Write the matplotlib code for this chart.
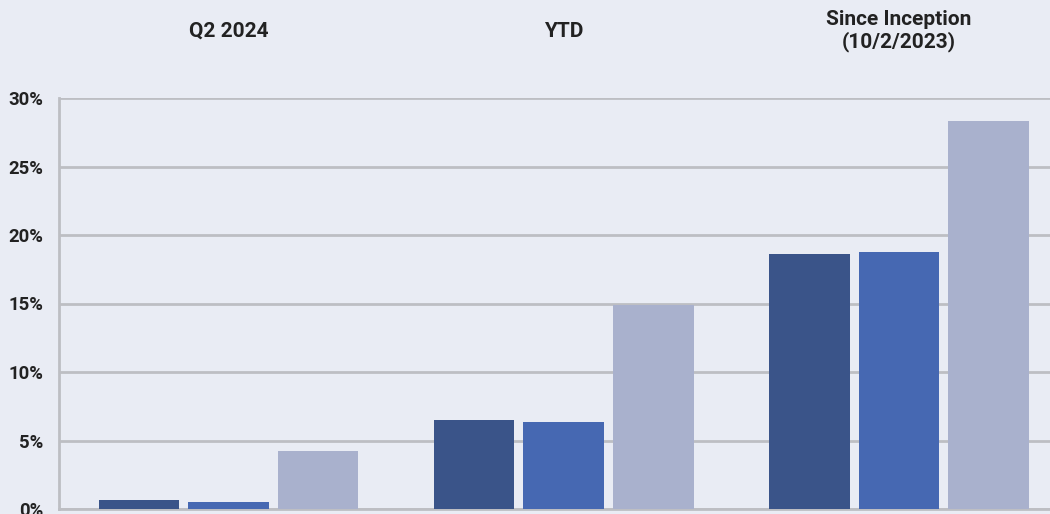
import matplotlib.pyplot as plt
import matplotlib.transforms as mtransforms
import numpy as np

# periods and the three return series (percent)
periods = ["Q2 2024", "YTD", "Since Inception\n(10/2/2023)"]
series_a = [0.68, 6.5, 18.6]
series_b = [0.53, 6.35, 18.75]
series_c = [4.2, 14.9, 28.3]
yticks = [0, 5, 10, 15, 20, 25, 30]

colors = ["#3A5489", "#4668B2", "#A9B1CD"]
bg = "#E9ECF4"

plt.rcParams['font.family'] = ['Roboto', 'DejaVu Sans']

fig = plt.figure(figsize=(10.5, 5.14), dpi=100, facecolor=bg)
ax = fig.add_axes([59 / 1050, 5 / 514, 991 / 1050, 411 / 514])
ax.set_facecolor(bg)

x = np.arange(len(periods))
w = 0.24
step = 0.267
for i, vals in enumerate([series_a, series_b, series_c]):
    ax.bar(x + (i - 1) * step, vals, width=w, color=colors[i], zorder=3)

ax.set_xlim(-0.505, 2.45)
ax.set_ylim(0, 30)
ax.set_yticks(yticks)
ax.set_yticklabels(["{}%".format(t) for t in yticks])
ax.set_xticks([])
ax.tick_params(axis='y', length=0, pad=11.5, labelsize=13.3, labelcolor="#222222")
for lab in ax.get_yticklabels():
    lab.set_fontweight('bold')

ax.yaxis.grid(True, color="#BDBEC3", linewidth=2, zorder=0)
ax.set_axisbelow(True)
for s in ["top", "right"]:
    ax.spines[s].set_visible(False)
for s in ["left", "bottom"]:
    ax.spines[s].set_color("#BDBEC3")
    ax.spines[s].set_linewidth(2)

# group titles above the plot
trans = mtransforms.blended_transform_factory(ax.transData, ax.transAxes)
for xi, name in zip(x, periods):
    ax.text(xi, 1.163, name, transform=trans, ha='center', va='center',
            fontsize=15, fontweight='bold', color="#222222", linespacing=1.1)

fig.savefig("out.png", dpi=100, facecolor=bg)
